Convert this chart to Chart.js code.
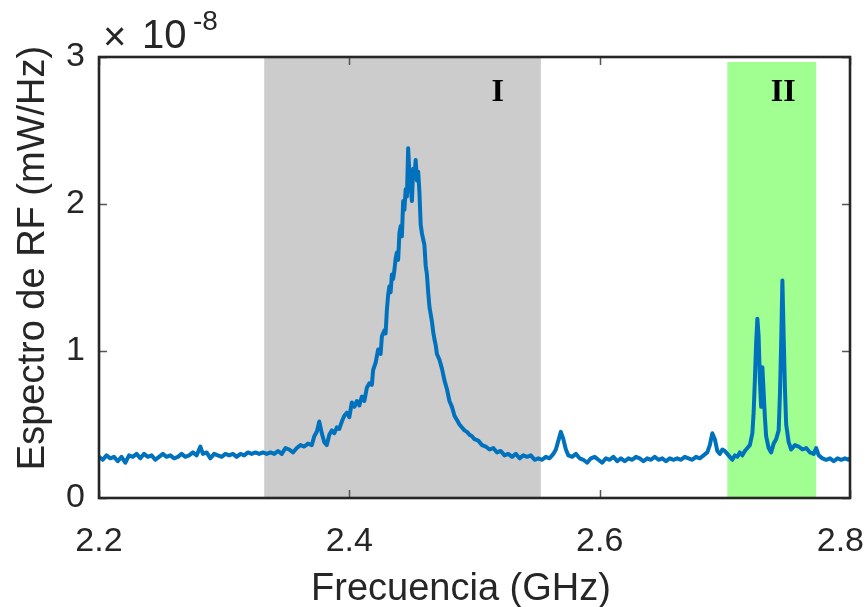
<!DOCTYPE html>
<html><head><meta charset="utf-8">
<script src="https://cdn.jsdelivr.net/npm/chart.js@4/dist/chart.umd.min.js"></script>
<style>html,body{margin:0;padding:0;background:#fff}#wrap{width:868px;height:607px}</style>
</head><body><div id="wrap"><canvas id="c" width="868" height="607"></canvas></div>
<script>
// Frequency (GHz)
const freqGHz = [
2.200,2.203,2.206,2.209,2.212,2.215,2.218,2.221,2.224,2.227,
2.230,2.233,2.236,2.239,2.242,2.245,2.248,2.251,2.254,2.257,
2.260,2.263,2.266,2.269,2.272,2.275,2.278,2.281,2.283,2.286,
2.289,2.292,2.295,2.298,2.301,2.304,2.307,2.310,2.313,2.316,
2.319,2.322,2.325,2.328,2.331,2.334,2.337,2.340,2.343,2.346,
2.349,2.352,2.355,2.358,2.361,2.364,2.367,2.370,2.372,2.374,
2.376,2.378,2.380,2.382,2.384,2.386,2.388,2.390,2.392,2.394,
2.396,2.398,2.400,2.402,2.404,2.406,2.408,2.410,2.412,2.414,
2.416,2.418,2.419,2.421,2.423,2.425,2.426,2.428,2.429,2.430,
2.431,2.432,2.433,2.434,2.435,2.436,2.437,2.438,2.439,2.440,
2.441,2.442,2.443,2.444,2.445,2.446,2.447,2.448,2.449,2.450,
2.451,2.452,2.453,2.454,2.455,2.456,2.457,2.458,2.459,2.460,
2.461,2.462,2.463,2.464,2.465,2.466,2.467,2.468,2.469,2.470,
2.472,2.474,2.476,2.478,2.480,2.482,2.484,2.486,2.488,2.490,
2.492,2.494,2.496,2.498,2.500,2.503,2.506,2.509,2.512,2.515,
2.518,2.521,2.524,2.527,2.530,2.533,2.536,2.539,2.542,2.545,
2.548,2.551,2.554,2.557,2.560,2.563,2.565,2.567,2.569,2.571,
2.573,2.575,2.578,2.581,2.584,2.587,2.590,2.593,2.596,2.599,
2.602,2.605,2.608,2.611,2.614,2.617,2.620,2.623,2.626,2.629,
2.632,2.635,2.638,2.641,2.644,2.647,2.650,2.653,2.656,2.659,
2.662,2.665,2.668,2.671,2.674,2.677,2.680,2.683,2.686,2.688,
2.690,2.692,2.694,2.696,2.698,2.700,2.702,2.704,2.706,2.708,
2.710,2.712,2.714,2.716,2.718,2.720,2.722,2.723,2.724,2.725,
2.726,2.727,2.728,2.729,2.730,2.731,2.732,2.733,2.735,2.737,
2.739,2.741,2.743,2.744,2.745,2.746,2.747,2.748,2.749,2.751,
2.753,2.756,2.759,2.762,2.765,2.768,2.771,2.773,2.775,2.778,
2.781,2.784,2.787,2.790,2.793,2.796,2.799,2.800
];
// RF spectrum (x 1e-8 mW/Hz)
const powerE8 = [
0.28,0.26,0.29,0.27,0.28,0.25,0.28,0.24,0.29,0.28,
0.30,0.27,0.30,0.28,0.29,0.26,0.28,0.30,0.28,0.29,
0.27,0.28,0.30,0.28,0.29,0.31,0.29,0.35,0.30,0.31,
0.27,0.30,0.29,0.28,0.30,0.29,0.30,0.28,0.30,0.29,
0.31,0.30,0.31,0.30,0.31,0.30,0.31,0.30,0.32,0.30,
0.34,0.33,0.31,0.34,0.36,0.35,0.37,0.36,0.42,0.45,
0.52,0.44,0.38,0.36,0.43,0.46,0.44,0.48,0.47,0.52,
0.56,0.58,0.55,0.65,0.62,0.66,0.63,0.69,0.66,0.75,
0.78,0.77,0.87,0.92,1.01,0.98,1.10,1.14,1.12,1.28,
1.38,1.44,1.40,1.52,1.49,1.55,1.63,1.67,1.62,1.80,
1.85,1.78,2.02,1.96,2.10,2.05,2.38,2.20,2.12,2.02,
2.24,2.18,2.30,2.16,2.22,2.08,1.86,1.80,1.76,1.72,
1.58,1.52,1.40,1.30,1.25,1.20,1.13,1.08,1.04,0.98,
0.94,0.88,0.80,0.74,0.66,0.62,0.56,0.53,0.50,0.48,
0.46,0.45,0.43,0.42,0.40,0.39,0.36,0.35,0.33,0.34,
0.31,0.32,0.29,0.30,0.28,0.30,0.27,0.29,0.28,0.29,
0.26,0.27,0.26,0.28,0.27,0.30,0.33,0.39,0.45,0.40,
0.33,0.29,0.28,0.30,0.27,0.26,0.24,0.27,0.28,0.26,
0.24,0.27,0.26,0.28,0.25,0.27,0.25,0.27,0.26,0.28,
0.27,0.25,0.27,0.26,0.28,0.26,0.27,0.25,0.27,0.26,
0.27,0.26,0.28,0.27,0.26,0.28,0.27,0.29,0.31,0.36,
0.44,0.40,0.32,0.30,0.33,0.32,0.30,0.28,0.26,0.29,
0.28,0.31,0.29,0.32,0.34,0.36,0.44,0.58,0.80,1.05,
1.22,1.10,0.80,0.62,0.89,0.72,0.55,0.42,0.34,0.31,
0.37,0.40,0.46,0.70,1.05,1.48,1.10,0.75,0.50,0.38,
0.33,0.36,0.35,0.33,0.34,0.31,0.30,0.34,0.29,0.27,
0.26,0.27,0.25,0.27,0.26,0.27,0.26,0.27
];
const xTicks = [2.2, 2.4, 2.6, 2.8];
const yTicks = [0, 1, 2, 3];
const regionNames = ['I', 'II'];
const regionStart = [2.332, 2.702];
const regionEnd = [2.553, 2.773];
const regionTop = [3.0, 2.966];
const regionColors = ['#cccccc', 'rgb(160,255,144)'];

const SANS = "'Liberation Sans', Arial, Helvetica, sans-serif";
const SERIF = "'Liberation Serif', 'Times New Roman', serif";

const decor = {
  id: 'decor',
  beforeDatasetsDraw(chart) {
    const {ctx, scales: {x, y}} = chart;
    ctx.save();
    for (let i = 0; i < regionNames.length; i++) {
      const x0 = x.getPixelForValue(regionStart[i]);
      const x1 = x.getPixelForValue(regionEnd[i]);
      const y0 = y.getPixelForValue(regionTop[i]);
      const y1 = y.getPixelForValue(0);
      ctx.fillStyle = regionColors[i];
      ctx.fillRect(x0, y0, x1 - x0, y1 - y0);
    }
    ctx.restore();
  },
  afterDatasetsDraw(chart) {
    const {ctx, chartArea: a, scales: {x, y}} = chart;
    ctx.save();
    // region labels
    ctx.fillStyle = '#000';
    ctx.font = 'bold 32px ' + SERIF;
    ctx.textAlign = 'center';
    ctx.textBaseline = 'alphabetic';
    const labelX = [2.5185, 2.7467];
    for (let i = 0; i < regionNames.length; i++) {
      ctx.fillText(regionNames[i], x.getPixelForValue(labelX[i]), 101);
    }
    // ticks (inside)
    ctx.strokeStyle = '#555';
    ctx.lineWidth = 1.5;
    const tl = 8;
    ctx.beginPath();
    xTicks.forEach(v => {
      const px = Math.round(x.getPixelForValue(v)) + 0.5;
      ctx.moveTo(px, a.bottom); ctx.lineTo(px, a.bottom - tl);
      ctx.moveTo(px, a.top); ctx.lineTo(px, a.top + tl);
    });
    yTicks.forEach(v => {
      const py = Math.round(y.getPixelForValue(v)) + 0.5;
      ctx.moveTo(a.left, py); ctx.lineTo(a.left + tl, py);
      ctx.moveTo(a.right, py); ctx.lineTo(a.right - tl, py);
    });
    ctx.stroke();
    // box
    ctx.strokeStyle = '#262626';
    ctx.lineWidth = 2.6;
    ctx.strokeRect(a.left, a.top, a.right - a.left, a.bottom - a.top);
    // x tick labels (kept inside the canvas)
    ctx.fillStyle = '#262626';
    ctx.font = '34px ' + SANS;
    ctx.textAlign = 'center';
    ctx.textBaseline = 'alphabetic';
    xTicks.forEach(v => {
      const label = v.toFixed(1);
      const w = ctx.measureText(label).width;
      let px = x.getPixelForValue(v);
      px = Math.min(px, chart.width - 4 - w / 2);
      ctx.fillText(label, px, 551);
    });
    // axis titles
    ctx.font = '38px ' + SANS;
    ctx.fillText('Frecuencia (GHz)', 461, 600);
    ctx.save();
    ctx.translate(44, 258);
    ctx.rotate(-Math.PI / 2);
    ctx.fillText('Espectro de RF (mW/Hz)', 0, 0);
    ctx.restore();
    // exponent
    ctx.textAlign = 'left';
    ctx.font = '40px ' + SANS;
    ctx.fillText('\u00d7', 103, 50);
    ctx.fillText('10', 142, 48);
    ctx.font = '28px ' + SANS;
    ctx.fillText('-8', 193, 30);
    ctx.restore();
  }
};

new Chart(document.getElementById('c'), {
  type: 'line',
  data: {
    datasets: [{
      data: freqGHz.map((f, i) => ({x: f, y: powerE8[i]})),
      borderColor: '#0072BD',
      borderWidth: 4,
      pointRadius: 0,
      tension: 0,
      borderJoinStyle: 'round',
      borderCapStyle: 'round',
      fill: false
    }]
  },
  options: {
    responsive: false,
    animation: false,
    devicePixelRatio: 1,
    layout: {padding: {left: 0, top: 57, right: 18, bottom: 0}},
    plugins: {legend: {display: false}, tooltip: {enabled: false}},
    scales: {
      x: {
        type: 'linear', min: 2.2, max: 2.8,
        afterBuildTicks: s => { s.ticks = xTicks.map(v => ({value: v})); },
        afterFit: s => { s.height = 109; s.paddingLeft = 0; s.paddingRight = 0; },
        grid: {display: false, drawTicks: false},
        border: {display: false},
        ticks: {display: false}
      },
      y: {
        type: 'linear', min: 0, max: 3,
        afterBuildTicks: s => { s.ticks = yTicks.map(v => ({value: v})); },
        afterFit: s => { s.width = 99; s.paddingTop = 0; s.paddingBottom = 0; },
        grid: {display: false, drawTicks: false},
        border: {display: false},
        ticks: {
          color: '#262626', padding: 14,
          font: {family: SANS, size: 34},
          callback: v => String(v)
        }
      }
    }
  },
  plugins: [decor]
});
</script>
</body></html>
